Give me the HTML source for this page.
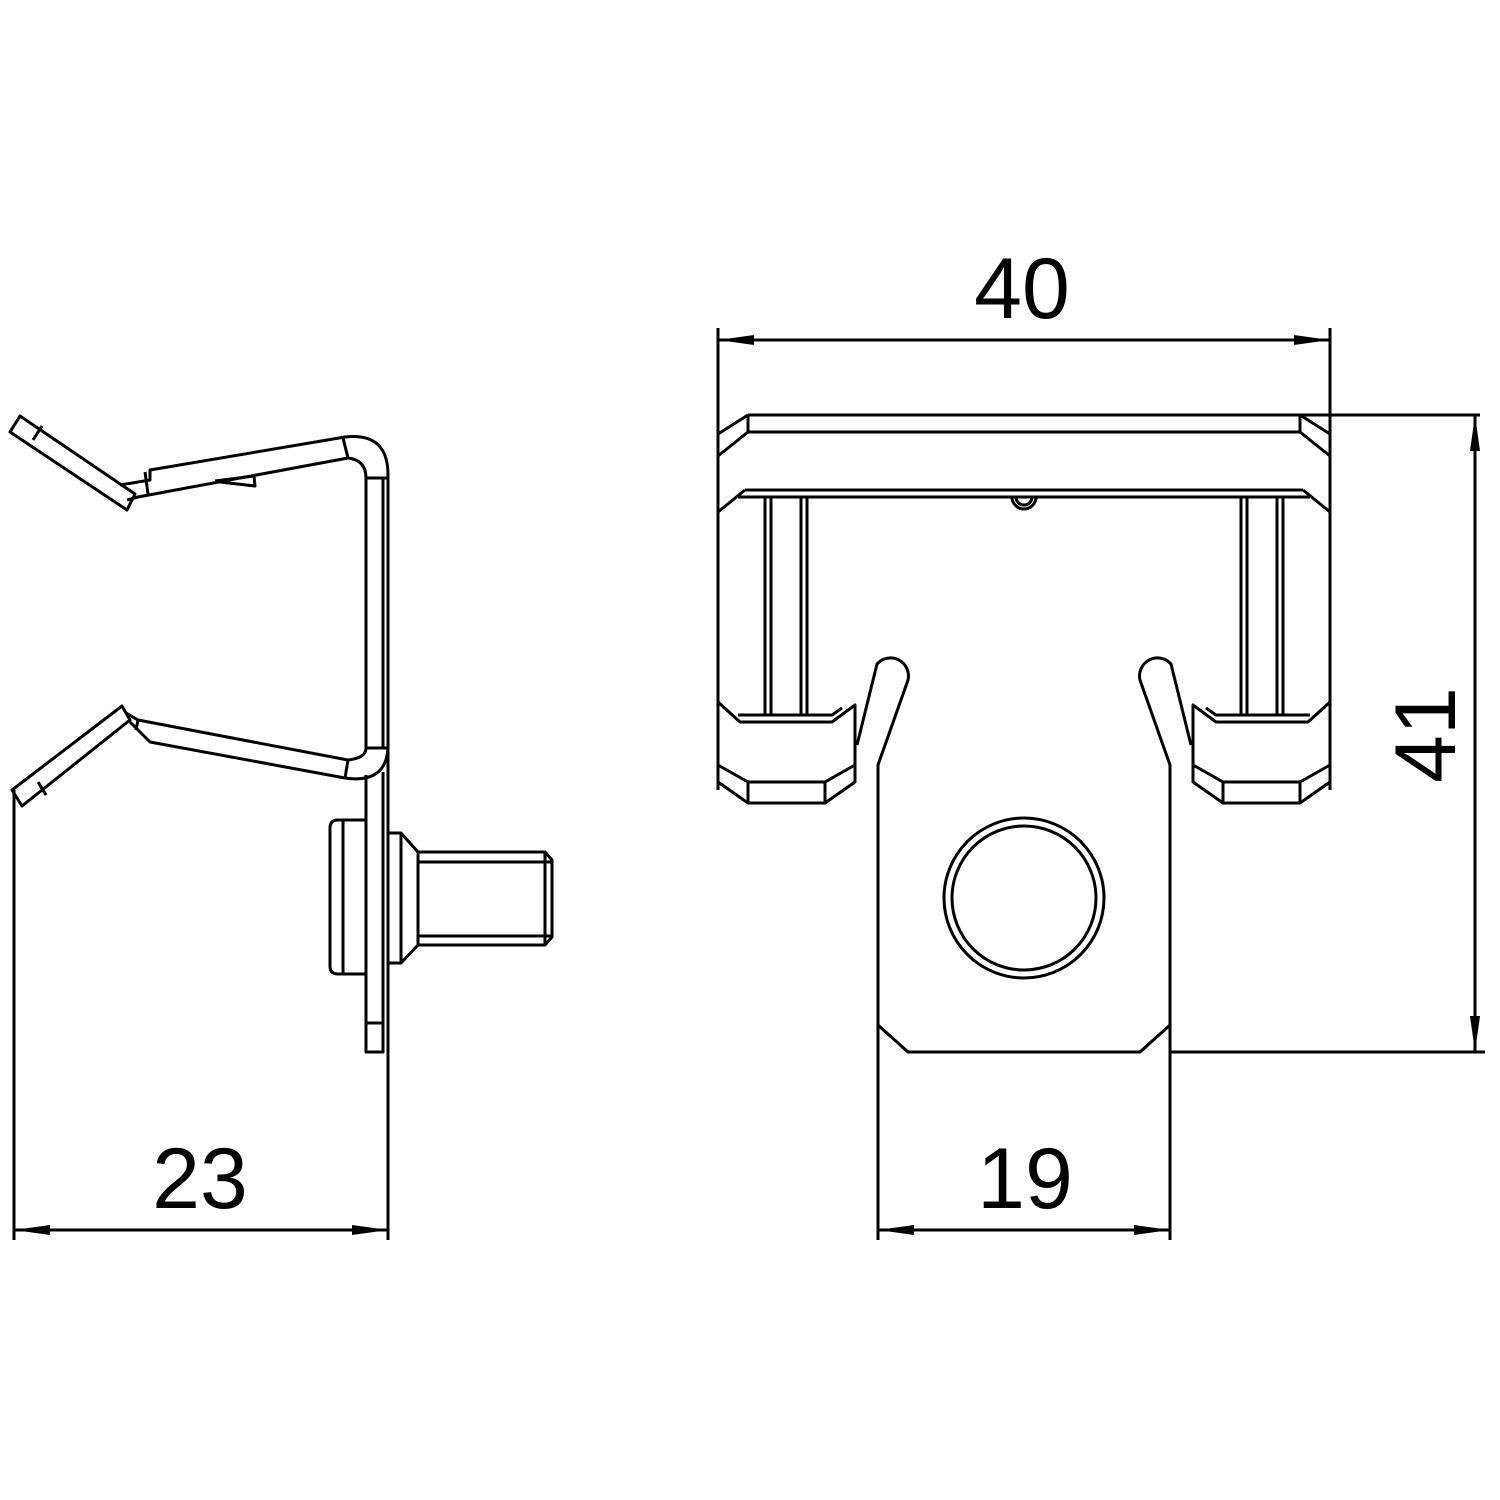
<!DOCTYPE html>
<html><head><meta charset="utf-8"><style>html,body{margin:0;padding:0;background:#fff}svg{display:block}</style></head>
<body>
<svg width="1500" height="1500" viewBox="0 0 1500 1500" xmlns="http://www.w3.org/2000/svg">
<defs>
<marker id="a" viewBox="0 0 36 10" refX="36" refY="5" markerWidth="36" markerHeight="10" markerUnits="userSpaceOnUse" orient="auto-start-reverse"><path d="M0,0 L36,5 L0,10 Z" fill="#000"/></marker>
</defs>
<g fill="none" stroke="#000" stroke-width="3" stroke-linejoin="round">
<!-- LEFT VIEW -->
<polygon points="10,432 20,416 135,494 127,510"/>
<line x1="33" y1="440" x2="42" y2="426"/>
<path d="M120,485 L150,480 L150,470 L345,437 Q388,432 388,475"/>
<path d="M127,500 L138,497 L348,458 Q366,460 366,478"/>
<line x1="145" y1="472" x2="148" y2="494"/>
<line x1="366" y1="478" x2="388" y2="478"/>
<line x1="343" y1="438" x2="348" y2="458"/>
<polyline points="215,481 254,476 255,486 220,482"/>
<!-- lower tab -->
<polygon points="12,790 22,806 130,720 122,706"/>
<line x1="38" y1="782" x2="46" y2="795"/>
<!-- lower arm -->
<path d="M126,713 L138,720 L348,760 Q366,758 366,748"/>
<path d="M130,722 L150,742 L345,778 Q386,784 388,748"/>
<line x1="138" y1="720" x2="136" y2="730"/>
<line x1="348" y1="760" x2="345" y2="778"/>
<line x1="366" y1="748" x2="388" y2="748"/>
<!-- plate -->
<line x1="366" y1="478" x2="366" y2="748"/>
<line x1="383" y1="478" x2="383" y2="748"/>
<line x1="388" y1="475" x2="388" y2="1240"/>
<polyline points="366,775 366,1052 383,1052 383,772"/>
<line x1="366" y1="1023" x2="383" y2="1023"/>
<!-- bolt -->
<path d="M366,820 L338,820 Q330,820 330,828 L330,966 Q330,974 338,974 L366,974"/>
<line x1="343" y1="820" x2="343" y2="974"/>
<polyline points="388,833 401,833 418,852 418,945 401,963 388,963"/>
<line x1="401" y1="833" x2="401" y2="963"/>
<polyline points="418,852 545,852 552,860 552,937 545,945 418,945"/>
<line x1="418" y1="862" x2="552" y2="862"/>
<line x1="418" y1="936" x2="552" y2="936"/>
<line x1="545" y1="852" x2="545" y2="945"/>
<!-- dim 23 -->
<line x1="14" y1="790" x2="14" y2="1240"/>
<line x1="14" y1="1230" x2="388" y2="1230" marker-start="url(#a)" marker-end="url(#a)"/>

<!-- RIGHT VIEW -->
<line x1="718" y1="328" x2="718" y2="790"/>
<line x1="1330" y1="328" x2="1330" y2="790"/>
<line x1="718" y1="340" x2="1330" y2="340" marker-start="url(#a)" marker-end="url(#a)"/>
<line x1="748" y1="415" x2="1480" y2="415"/>
<line x1="748" y1="432" x2="1300" y2="432"/>
<line x1="748" y1="415" x2="748" y2="432"/>
<line x1="1300" y1="415" x2="1300" y2="432"/>
<polyline points="718,434 748,415"/>
<polyline points="718,456 748,432"/>
<polyline points="1330,434 1300,415"/>
<polyline points="1330,456 1300,432"/>
<line x1="745" y1="490" x2="1303" y2="490"/>
<line x1="738" y1="497" x2="1310" y2="497"/>
<polyline points="718,512 745,490"/>
<polyline points="1330,512 1303,490"/>
<path d="M1012,497 A12,12 0 0 0 1036,497"/>
<path d="M1016,497 A8,8 0 0 0 1032,497"/>
<line x1="765" y1="497" x2="765" y2="716"/><line x1="771" y1="497" x2="771" y2="716"/>
<line x1="801" y1="497" x2="801" y2="716"/><line x1="807" y1="497" x2="807" y2="716"/>
<line x1="1241" y1="497" x2="1241" y2="716"/><line x1="1247" y1="497" x2="1247" y2="716"/>
<line x1="1277" y1="497" x2="1277" y2="716"/><line x1="1283" y1="497" x2="1283" y2="716"/>
<!-- left foot -->
<polyline points="718,702 740,722 832,722 855,705 855,782 825,803 748,803 718,782"/>
<polyline points="738,715 832,715 842,708"/>
<line x1="748" y1="782" x2="825" y2="782"/>
<polyline points="718,765 748,782 748,803"/>
<polyline points="855,765 825,782 825,803"/>
<!-- right foot -->
<polyline points="1330,702 1308,722 1216,722 1193,705 1193,782 1223,803 1300,803 1330,782"/>
<polyline points="1310,715 1216,715 1206,708"/>
<line x1="1223" y1="782" x2="1300" y2="782"/>
<polyline points="1330,765 1300,782 1300,803"/>
<polyline points="1193,765 1223,782 1223,803"/>
<!-- body with fingers -->
<path d="M878,1240 L878,765 L908,680 A18,18 0 0 0 877,664 L857,745"/>
<path d="M1170,1240 L1170,765 L1140,680 A18,18 0 0 1 1171,664 L1191,745"/>
<polyline points="878,1025 908,1052 1140,1052 1170,1025"/>
<line x1="1170" y1="1052" x2="1485" y2="1052"/>
<circle cx="1024" cy="898" r="80"/>
<circle cx="1024" cy="898" r="72"/>
<line x1="1475" y1="415" x2="1475" y2="1052" marker-start="url(#a)" marker-end="url(#a)"/>
<line x1="878" y1="1230" x2="1170" y2="1230" marker-start="url(#a)" marker-end="url(#a)"/>
</g>
<g font-family="Liberation Sans, sans-serif" font-size="86" fill="#000" text-anchor="middle">
<text x="1022" y="318">40</text>
<text x="200" y="1208">23</text>
<text x="1025" y="1208">19</text>
<text transform="translate(1455,735) rotate(-90)">41</text>
</g>
</svg>
</body></html>
